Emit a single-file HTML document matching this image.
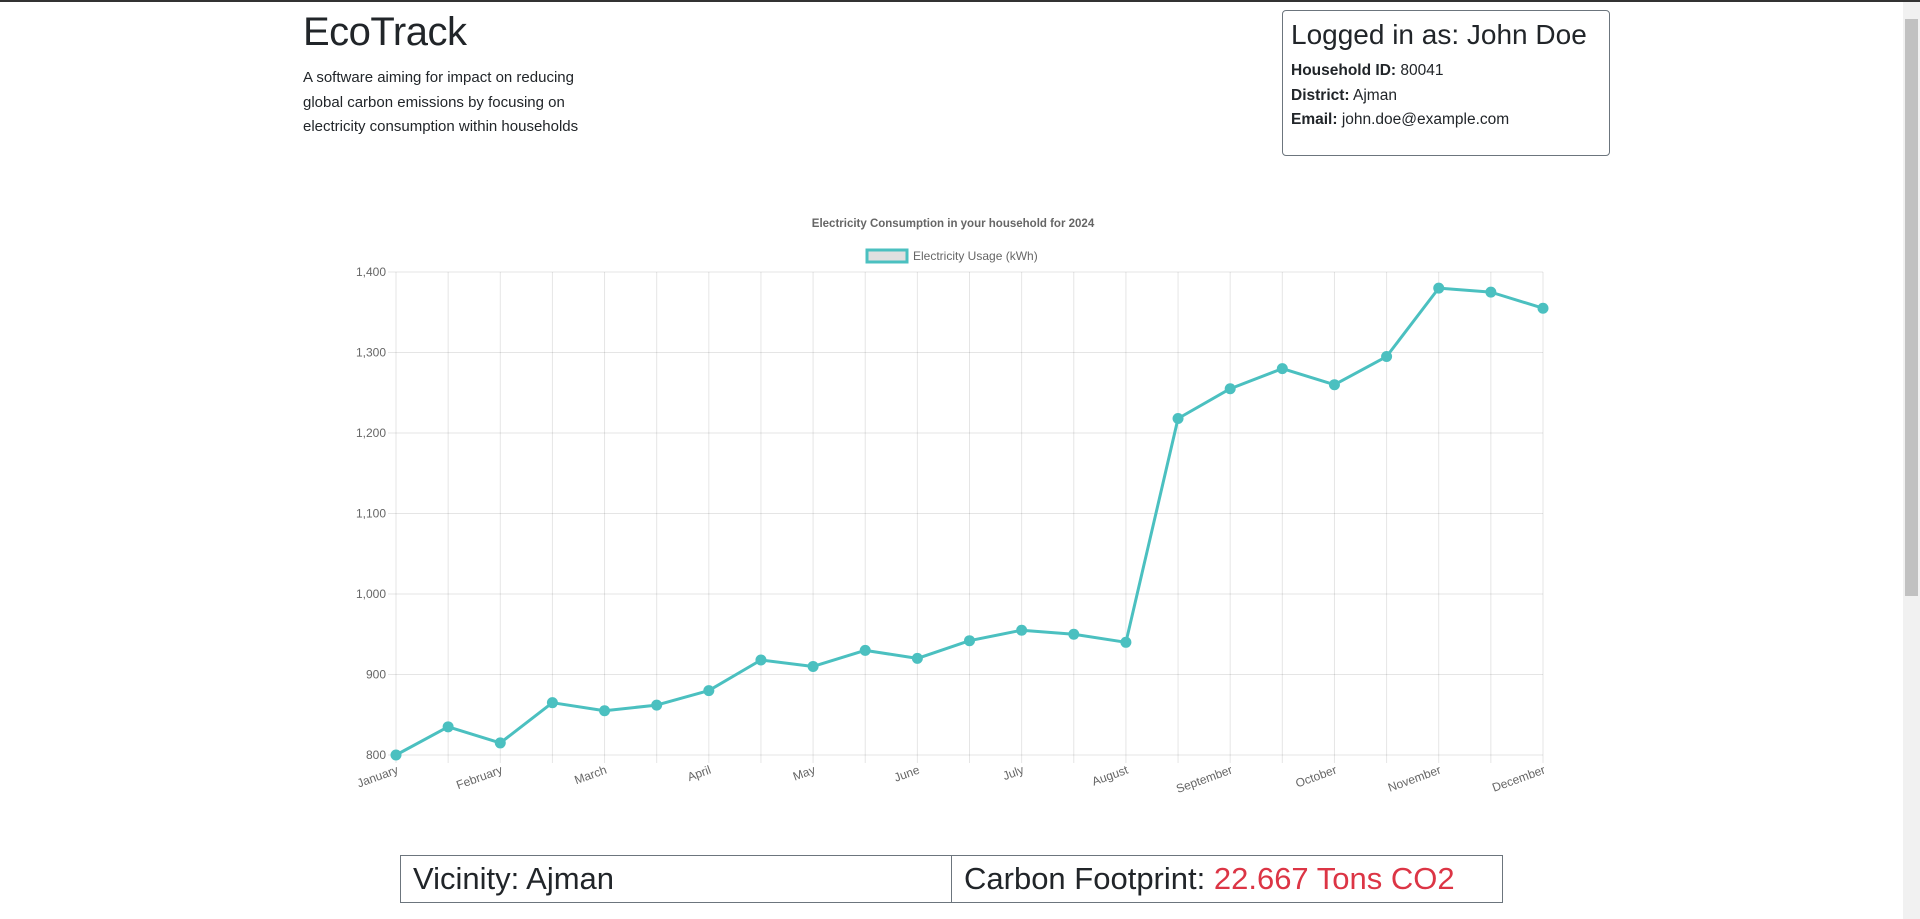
<!DOCTYPE html>
<html><head><meta charset="utf-8"><style>
body{margin:0;width:1920px;height:919px;overflow:hidden;background:#fff;font-family:"Liberation Sans",sans-serif;color:#212529;position:relative}
#topbar{position:absolute;left:0;top:0;width:1920px;height:2px;background:#333}
h1{position:absolute;left:303px;top:10px;margin:0;font-size:40px;font-weight:500;letter-spacing:-0.5px}
#desc{position:absolute;left:303px;top:66px;font-size:15px;line-height:24.5px}
#login{position:absolute;left:1282px;top:10px;width:328px;height:146px;border:1px solid #6c757d;border-radius:4px;box-sizing:border-box;padding:8px}
#login h2{margin:0 0 8px;font-size:28px;font-weight:500}
#login p{margin:0;font-size:15.5px;line-height:24.5px}
#scroll{position:absolute;left:1903px;top:2px;width:17px;height:917px;background:#f1f1f1}
#thumb{position:absolute;left:2px;top:17px;width:13px;height:577px;background:#c1c1c1}
#tbl{position:absolute;left:400px;top:855px;width:1103px;height:48px;border:1px solid #6c757d;box-sizing:border-box;display:flex}
#tbl div{flex:1;font-size:31px;font-weight:500;padding:0 12px;line-height:46px;white-space:nowrap}
#tbl div+div{border-left:1px solid #6c757d}
</style></head><body>
<div id="topbar"></div>
<h1>EcoTrack</h1>
<div id="desc">A software aiming for impact on reducing<br>global carbon emissions by focusing on<br>electricity consumption within households</div>
<div id="login">
<h2>Logged in as: John Doe</h2>
<p><b>Household ID:</b> 80041</p>
<p><b>District:</b> Ajman</p>
<p><b>Email:</b> john.doe@example.com</p>
</div>
<svg id="chart" width="1920" height="919" style="position:absolute;left:0;top:0"></svg>
<div id="tbl">
<div>Vicinity: Ajman</div>
<div>Carbon Footprint: <span style="color:#dc3545">22.667 Tons CO2</span></div>
</div>
<div id="scroll"><div id="thumb"></div></div>
<script>
const categories=["January","","February","","March","","April","","May","","June","","July","","August","","September","","October","","November","","December"];
const usage=[800,835,815,865,855,862,880,918,910,930,920,942,955,950,940,1218,1255,1280,1260,1295,1380,1375,1355];
const yTicks=[800,900,1000,1100,1200,1300,1400];
const L=396,R=1543,T=272,B=755,yMin=800,yMax=1400;
const svg=document.getElementById('chart');const NS='http://www.w3.org/2000/svg';
function x(i){return L+(R-L)*i/(categories.length-1);}
function y(v){return B-(v-yMin)/(yMax-yMin)*(B-T);}
function mk(t,a){const e=document.createElementNS(NS,t);for(const k in a)e.setAttribute(k,a[k]);svg.appendChild(e);return e;}
let e;
e=mk('text',{x:953,y:227,'text-anchor':'middle','font-size':11.5,'font-weight':'bold',fill:'#666','font-family':'Liberation Sans'});e.textContent='Electricity Consumption in your household for 2024';


e=mk('rect',{x:867,y:250,width:40,height:12,fill:'#e0e0e0',stroke:'rgb(75,192,192)','stroke-width':3});


e=mk('text',{x:913,y:260,'font-size':12,fill:'#666','font-family':'Liberation Sans'});e.textContent='Electricity Usage (kWh)';


yTicks.forEach(v=>{
 e=mk('line',{x1:L-8,x2:R,y1:y(v),y2:y(v),stroke:'rgba(0,0,0,0.1)'});
 
 
 e=mk('text',{x:L-10,y:y(v)+4,'text-anchor':'end','font-size':12,fill:'#666','font-family':'Liberation Sans'});e.textContent=v.toLocaleString('en-US');
 
 
});
categories.forEach((c,i)=>{
 e=mk('line',{x1:x(i),x2:x(i),y1:T,y2:B+8,stroke:'rgba(0,0,0,0.1)'});
 
 
 if(c){e=mk('text',{x:0,y:0,'text-anchor':'end','font-size':12,fill:'#666','font-family':'Liberation Sans',transform:`translate(${x(i)+3},${B+18}) rotate(-20)`});e.textContent=c;
 
 }
});
e=mk('polyline',{points:usage.map((v,i)=>x(i)+','+y(v)).join(' '),fill:'none',stroke:'rgb(75,192,192)','stroke-width':3,'stroke-linejoin':'round'});


usage.forEach((v,i)=>{
 e=mk('circle',{cx:x(i),cy:y(v),r:5.5,fill:'rgb(75,192,192)'});
 
 
});
</script>
</body></html>
